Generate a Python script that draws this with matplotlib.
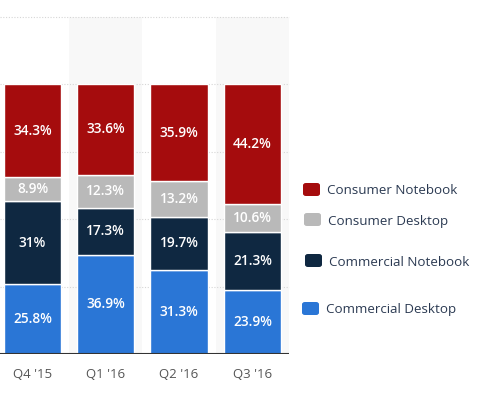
import matplotlib
matplotlib.use("Agg")
import matplotlib.pyplot as plt
from matplotlib.patches import FancyBboxPatch
import numpy as np

categories = ["Q4 '15", "Q1 '16", "Q2 '16", "Q3 '16"]
series_names = ["Commercial Desktop", "Commercial Notebook", "Consumer Desktop", "Consumer Notebook"]
commercial_desktop = [25.8, 36.9, 31.3, 23.9]
commercial_notebook = [31.0, 17.3, 19.7, 21.3]
consumer_desktop = [8.9, 12.3, 13.2, 10.6]
consumer_notebook = [34.3, 33.6, 35.9, 44.2]
value_labels = [
    ["25.8%", "36.9%", "31.3%", "23.9%"],
    ["31%", "17.3%", "19.7%", "21.3%"],
    ["8.9%", "12.3%", "13.2%", "10.6%"],
    ["34.3%", "33.6%", "35.9%", "44.2%"],
]
colors = ["#2a76d6", "#0f2841", "#b9b9b9", "#a50c0d"]

plt.rcParams['font.family'] = ['Open Sans', 'DejaVu Sans']

W, H = 479, 395
fig = plt.figure(figsize=(W / 100, H / 100), dpi=100)
ax = fig.add_axes([0, 41 / H, 289 / W, (354 - 17) / H])

x = np.arange(len(categories))
ax.set_xlim(-0.443, 3.5)
ax.set_ylim(0, 125)

for i in range(len(categories)):
    if i % 2 == 1:
        ax.axvspan(i - 0.5, i + 0.5, color="#f8f8f8", zorder=0, lw=0)

for yv in [25, 50, 75, 100, 125]:
    ax.axhline(yv, color="#d6d6d6", lw=0.8, ls=(0, (1, 1.5)), zorder=1, clip_on=False)

series = [commercial_desktop, commercial_notebook, consumer_desktop, consumer_notebook]
bottom = np.zeros(len(categories))
for s, vals in enumerate(series):
    vals = np.array(vals)
    ax.bar(x, vals, width=0.78, bottom=bottom, color=colors[s], edgecolor="white",
           linewidth=1.0, zorder=2)
    for i in range(len(categories)):
        ax.text(x[i], bottom[i] + vals[i] / 2, value_labels[s][i], ha="center", va="center",
                color="white", fontsize=9.8, fontweight="semibold", zorder=3)
    bottom += vals

ax.axhline(0, color="#333333", lw=1.5, zorder=4)
for sp in ax.spines.values():
    sp.set_visible(False)
ax.set_yticks([])
ax.set_xticks(x)
ax.set_xticklabels(categories, fontsize=9.5, color="#555555")
ax.tick_params(axis="x", length=0, pad=10)

# legend (manual placement)
legend_items = [
    ("Consumer Notebook", colors[3], 303, 191),
    ("Consumer Desktop", colors[2], 304, 221),
    ("Commercial Notebook", colors[1], 305, 262),
    ("Commercial Desktop", colors[0], 302, 310),
]
for name, c, px, py in legend_items:
    box = FancyBboxPatch((px / W, 1 - (py + 5) / H), 17 / W, 13 / H,
                         boxstyle="round,pad=0,rounding_size=0.006",
                         transform=fig.transFigure, facecolor=c, edgecolor="none")
    fig.patches.append(box)
    fig.text((px + 24) / W, 1 - py / H, name, ha="left", va="center",
             fontsize=9.6, color="#2b3a52")

fig.savefig("out.png", dpi=100)
